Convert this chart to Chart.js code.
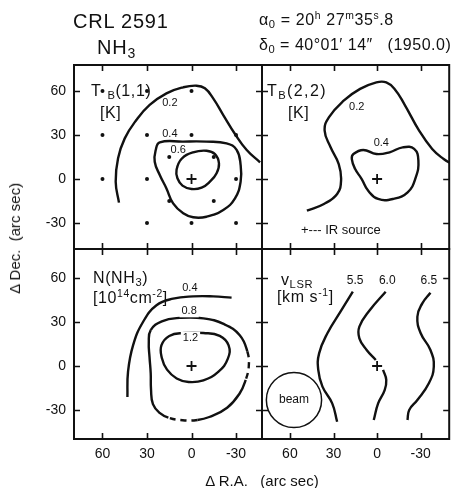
<!DOCTYPE html>
<html><head><meta charset="utf-8">
<script src="https://cdn.jsdelivr.net/npm/chart.js@4/dist/chart.umd.min.js"></script>
<style>
body{margin:0;background:#fff;}
#wrap{position:relative;width:456px;height:488px;overflow:hidden;font-family:"Liberation Sans",Arial,sans-serif;color:#111;}
canvas{position:absolute;left:0;top:0;}
.t{position:absolute;white-space:nowrap;line-height:1;}
.t sub{font-size:70%;vertical-align:-0.3em;line-height:0;}
.t sup{font-size:65%;vertical-align:0.55em;line-height:0;}
.p{font-size:16px;letter-spacing:0.6px;}
</style></head><body>
<div id="wrap">
<canvas id="cTL" width="456" height="488"></canvas>
<canvas id="cTR" width="456" height="488"></canvas>
<canvas id="cBL" width="456" height="488"></canvas>
<canvas id="cBR" width="456" height="488"></canvas>

<div class="t" style="left:73px;top:11px;font-size:20px;letter-spacing:0.8px;">CRL 2591</div>
<div class="t" style="left:97px;top:37px;font-size:20px;letter-spacing:0.8px;">NH<sub>3</sub></div>
<div class="t" style="left:259px;top:12px;font-size:16px;letter-spacing:0.6px;">α<sub>0</sub> = 20<sup>h</sup> 27<sup>m</sup>35<sup>s</sup>.8</div>
<div class="t" style="left:259px;top:37px;font-size:16px;letter-spacing:0.5px;">δ<sub>0</sub> = 40°01′ 14″&nbsp;&nbsp; (1950.0)</div>

<div class="t p" style="left:91px;top:83px;">T<span style="margin-left:6px"></span><sub>B</sub>(1,1)</div>
<div class="t p" style="left:100px;top:105px;">[K]</div>
<div class="t p" style="left:267px;top:83px;letter-spacing:1.4px;">T<sub>B</sub>(2,2)</div>
<div class="t p" style="left:288px;top:105px;">[K]</div>
<div class="t" style="left:301px;top:223px;font-size:13px;">+--- IR source</div>
<div class="t p" style="left:93px;top:270px;">N(NH<sub>3</sub>)</div>
<div class="t p" style="left:93px;top:290px;">[10<sup>14</sup>cm<sup>-2</sup>]</div>
<div class="t p" style="left:281px;top:272px;">v<sub>LSR</sub></div>
<div class="t p" style="left:277px;top:289px;">[km s<sup>-1</sup>]</div>

<div class="t" style="left:7px;top:183px;font-size:15px;writing-mode:vertical-rl;transform:rotate(180deg);">Δ Dec.&nbsp; (arc sec)</div>
<div class="t" style="left:262px;top:473px;font-size:15px;transform:translateX(-50%);">Δ R.A.&nbsp;&nbsp; (arc sec)</div>
</div>
<script>
// ---------------- data (arc sec: [ΔR.A., ΔDec.]) ----------------
const TICK_VALUES = [60, 30, 0, -30];

// T_B(1,1) panel
const tb11Grid = [[60,60],[30,60],[0,60],[60,30],[30,30],[0,30],[-30,30],[15,15],[-15,15],
                  [60,0],[30,0],[-30,0],[15,-15],[-15,-15],[30,-30],[0,-30],[-30,-30]];
const tb11Level02 = [[48.9,-16.1],[51.1,-1.8],[49.5,14.1],[45,27.7],[37.2,40.2],[28.2,50.5],[16.9,58.4],
                     [5.6,62.5],[-3.4,63.6],[-9,61.8],[-14.6,55],[-21.4,43.6],[-29.3,30.7],[-37.2,19.8],[-46.2,11.4]];
const tb11Level04 = [[21.4,25],[5.6,25.5],[-10.1,25.5],[-23.6,24.3],[-30.4,19.8],[-33.1,9.5],[-33.1,-1.8],
                     [-29.3,-13.2],[-21.4,-21.1],[-10.1,-25.7],[-1.1,-26.1],[5.6,-23.4],[12.4,-16.6],
                     [16.9,-6.4],[21.4,2.7],[24.8,11.8],[24.1,19.8]];
const tb11Level06 = [[10.1,6.1],[6.8,13.6],[-1.1,18.2],[-10.1,19.3],[-15.8,17],[-18.5,10.7],[-16.9,3.9],
                     [-12.4,-1.8],[-6.8,-5.9],[0,-6.8],[6.1,-4.5],[9.5,0.5]];
const tb11Labels = [["0.2",14.6,51.6],["0.4",14.6,30.7],["0.6",9,19.8]];

// T_B(2,2) panel
const tb22Level02 = [[48.3,-21.6],[36.6,-17],[27.5,-10.2],[24.8,-1.1],[26.4,10.2],[32,21.6],[36.1,33],[33.2,42],
                     [23,53.4],[11.7,61.4],[0.5,65.9],[-6.3,65.9],[-12,61.4],[-18.7,51.1],[-28.9,33],
                     [-37.9,20.5],[-45.8,13.6],[-51.5,10.2]];
const tb22Level04 = [[16.3,17],[9.5,19.8],[0.5,17],[-8.6,18.2],[-17.6,21.6],[-25.5,20.5],[-28.4,12.5],
                     [-26.6,1.1],[-21,-9.1],[-10.8,-13.6],[-0.7,-13.6],[6.1,-8],[10.6,0],[15.1,6.8],[17.4,13.6]];
const tb22Labels = [["0.2",14,48.9],["0.4",-2.9,24.3]];

// N(NH3) panel
const nLevel04 = [[43.2,-21.1],[42.8,-4.1],[39.4,14.1],[32.7,30],[23.6,41.4],[12.4,45.9],[-1.1,47.5],
                  [-14.6,47.5],[-27,46.6]];
const nLevel08 = [[27.5,24.5],[20,30.5],[8,32.8],[-8,32.5],[-22,28.5],[-32.5,21],[-37.6,10],[-38.6,0],
                  [-36.5,-9.5],[-32.5,-18.6],[-24,-28.5],[-12,-34.8],[-4,-36.8],[6,-37],[15.6,-35.2],
                  [21.5,-32],[26,-26],[27.3,-16],[27.5,-5],[28.3,6],[28.8,16]];
const nLevel08Dashed = [[6,8],[12,14]];   // index ranges of the uncertain (dashed) part
const nLevel12 = [[20.3,14],[15,20.5],[5,22.5],[-8,22.5],[-19,20.5],[-25,14],[-24.5,5],[-18,-4],
                  [-8,-9.8],[2,-10.9],[10,-8.5],[16.5,-2.5],[20,5.5]];
const nLabels = [["0.4",1.1,53.2],["0.8",1.6,37.3],["1.2",0.7,19.4]];

// v_LSR panel
const v55 = [[16.7,50.7],[25.2,37],[34.2,22.3],[39.9,8.6],[40.5,-2.7],[37.6,-14.1],[30.9,-25.5],[27.5,-38]];
const v60North = [[-5.9,50.7],[4.95,38.2],[12.2,26.8],[12.2,18.9],[7.2,10.9],[0.9,4.1]];
const v60South = [[-4.1,-2.7],[-6.3,-9.5],[-5.2,-16.4],[-0.7,-25.5],[2.3,-36.8]];
const v65 = [[-36.7,50],[-31.1,42.7],[-27.7,33.6],[-30,22.3],[-36.7,10.9],[-39,-0.5],[-35.6,-11.8],
             [-27.7,-23.2],[-22.1,-30],[-20.9,-36.8]];
const vLabels = [["5.5",15.1,58],["6.0",-7,58],["6.5",-35.6,58]];
const beamCenter = [57.2,-23.2];
const beamDiameter = 38;
const irSource = [0,0];

// ---------------- rendering ----------------
const INK = '#111';
Chart.defaults.font.family = "'Liberation Sans', Arial, sans-serif";
Chart.defaults.color = INK;

const xy = pts => pts.map(([x,y]) => ({x, y}));

function openLine(pts){
  return {data: xy(pts), showLine:true, pointRadius:0, borderColor:INK, borderWidth:2.4, tension:0.45, fill:false};
}
function closedLine(pts, dashed){
  const n = pts.length;
  const data = xy([pts[n-1], ...pts, pts[0], pts[1]]);
  return {
    data, showLine:true, pointRadius:0, borderColor:INK, borderWidth:2.4, tension:0.45, fill:false,
    segment:{
      borderColor: c => (c.p0DataIndex === 0 || c.p0DataIndex === n+1) ? 'rgba(0,0,0,0)' : INK,
      borderDash: c => {
        const i = c.p0DataIndex - 1;
        return (dashed || []).some(([a,b]) => i >= a && i < b) ? [6,5] : [];
      }
    }
  };
}
function plusMark(p){
  return {data: xy([p]), showLine:false, pointStyle:'cross', pointRadius:5,
          pointBorderColor:INK, pointBorderWidth:1.8};
}

const framePlugin = {
  id:'frame',
  afterDraw(chart){
    const {ctx, chartArea:a, scales:{x, y}} = chart;
    ctx.save();
    ctx.strokeStyle = INK;
    ctx.lineWidth = 1.6;
    const L = 6;
    ctx.beginPath();
    TICK_VALUES.forEach(v => {
      const px = Math.round(x.getPixelForValue(v)) + 0.5;
      if (px > a.left && px < a.right){
        ctx.moveTo(px, a.top); ctx.lineTo(px, a.top + L);
        ctx.moveTo(px, a.bottom); ctx.lineTo(px, a.bottom - L);
      }
      const py = Math.round(y.getPixelForValue(v)) + 0.5;
      if (py > a.top && py < a.bottom){
        ctx.moveTo(a.left, py); ctx.lineTo(a.left + L, py);
        ctx.moveTo(a.right, py); ctx.lineTo(a.right - L, py);
      }
    });
    ctx.stroke();
    ctx.lineWidth = 2;
    ctx.strokeRect(a.left, a.top, a.right - a.left, a.bottom - a.top);
    ctx.restore();
  }
};

const labelPlugin = {
  id:'contourText',
  afterDatasetsDraw(chart, args, opts){
    const {ctx, scales:{x, y}} = chart;
    (opts.items || []).forEach(([text, vx, vy]) => {
      const px = x.getPixelForValue(vx), py = y.getPixelForValue(vy);
      ctx.save();
      ctx.font = (opts.size || 11) + "px 'Liberation Sans', Arial, sans-serif";
      ctx.textAlign = 'center'; ctx.textBaseline = 'middle';
      if (opts.bg){
        const w = ctx.measureText(text).width;
        ctx.fillStyle = '#fff';
        ctx.fillRect(px - w/2 - 2, py - 6, w + 4, 12);
      }
      ctx.fillStyle = INK;
      ctx.fillText(text, px, py);
      ctx.restore();
    });
  }
};

function axis(min, max, show, isX){
  return {
    type:'linear', min, max, reverse: isX, display: show,
    afterBuildTicks: s => { s.ticks = TICK_VALUES.map(v => ({value:v})); },
    afterFit: s => { if (!show) return; if (isX) s.height = 49; else s.width = 74; },
    grid:{display:false, drawTicks:false},
    border:{display:false},
    ticks:{font:{size:14}, color:INK, padding: isX ? 7 : 8, maxRotation:0, autoSkip:false}
  };
}

function panel(id, padding, xr, yr, showX, showY, datasets, labelOpts){
  new Chart(document.getElementById(id), {
    type:'scatter',
    data:{datasets},
    options:{
      responsive:false, animation:false, devicePixelRatio:1, events:[],
      layout:{padding},
      scales:{x: axis(xr[0], xr[1], showX, true), y: axis(yr[0], yr[1], showY, false)},
      plugins:{legend:{display:false}, tooltip:{enabled:false}, contourText: labelOpts}
    },
    plugins:[framePlugin, labelPlugin]
  });
}

const XL = [-47.5, 79.2], XR = [-49.6, 79.2], YT = [-47.7, 77.7], YB = [-49.8, 79.8];

panel('cTL', {left:0, top:65, right:194, bottom:239}, XL, YT, false, true, [
  {data: xy(tb11Grid), showLine:false, pointRadius:2, pointBackgroundColor:INK, pointBorderWidth:0},
  openLine(tb11Level02), closedLine(tb11Level04), closedLine(tb11Level06), plusMark(irSource)
], {items: tb11Labels, size: 11});

panel('cTR', {left:262, top:65, right:3, bottom:239}, XR, YT, false, false, [
  openLine(tb22Level02), closedLine(tb22Level04), plusMark(irSource)
], {items: tb22Labels, size: 11});

panel('cBL', {left:0, top:249, right:194, bottom:0}, XL, YB, true, true, [
  openLine(nLevel04), closedLine(nLevel08, nLevel08Dashed), closedLine(nLevel12), plusMark(irSource)
], {items: nLabels, size: 11, bg: true});

panel('cBR', {left:262, top:249, right:3, bottom:0}, XR, YB, true, false, [
  openLine(v55), openLine(v60North), openLine(v60South), openLine(v65), plusMark(irSource),
  {data: xy([beamCenter]), showLine:false, pointStyle:'circle', pointBackgroundColor:'rgba(0,0,0,0)',
   pointBorderColor:INK, pointBorderWidth:1.5,
   pointRadius: c => { const s = c.chart.scales.x; return Math.abs(s.getPixelForValue(0) - s.getPixelForValue(beamDiameter/2)); }}
], {items: [...vLabels, ["beam", beamCenter[0], beamCenter[1]]], size: 12});
</script>
</body></html>
